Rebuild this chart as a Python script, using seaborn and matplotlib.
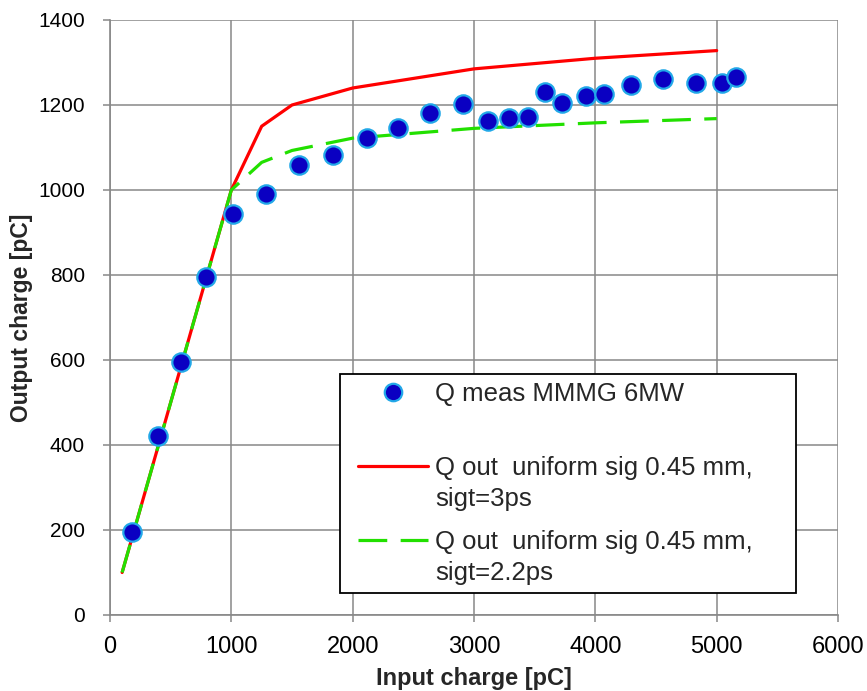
import numpy as np
import pandas as pd
import matplotlib
matplotlib.use("Agg")
import matplotlib.pyplot as plt
import seaborn as sns
from matplotlib.legend_handler import HandlerLine2D, HandlerPathCollection
from matplotlib.transforms import Affine2D

# ---------------- data ----------------
meas_x = [181, 396, 585, 791, 1014, 1286, 1558, 1838, 2119, 2377, 2638, 2908,
          3119, 3292, 3443, 3586, 3724, 3927, 4070, 4295, 4559, 4831, 5043, 5158]
meas_y = [195, 421, 596, 796, 943, 990, 1059, 1082, 1122, 1145, 1180, 1202,
          1163, 1170, 1172, 1231, 1205, 1220, 1226, 1248, 1262, 1252, 1252, 1266]
sim_x = [100, 1000, 1250, 1500, 2000, 3000, 4000, 5000]
sim3_y = [100, 1000, 1150, 1200, 1240, 1285, 1310, 1328]
sim22_y = [100, 1000, 1065, 1093, 1122, 1145, 1158, 1168]
x_ticks = [0, 1000, 2000, 3000, 4000, 5000, 6000]
y_ticks = [0, 200, 400, 600, 800, 1000, 1200, 1400]
label_meas = "Q meas MMMG 6MW"
label_3ps = "Q out  uniform sig 0.45 mm,\nsigt=3ps"
label_22ps = "Q out  uniform sig 0.45 mm,\nsigt=2.2ps"
x_label = "Input charge [pC]"
y_label = "Output charge [pC]"

sns.set_theme(style="white")
plt.rcParams["font.family"] = ["Liberation Sans", "DejaVu Sans"]

GRID = "#888888"
RED = "#ff0000"
GREEN = "#22e000"
FILL = "#0a00c2"
EDGE = "#22a8e8"

fig = plt.figure(figsize=(8.67, 6.91), dpi=100)
ax = fig.add_axes([0.12687, 0.10999, 0.83968, 0.86107])

meas = pd.DataFrame({"x": meas_x, "y": meas_y})
sim = pd.DataFrame({"x": sim_x, "y3": sim3_y, "y22": sim22_y})

sns.lineplot(data=sim, x="x", y="y3", color=RED, linewidth=2.3, ax=ax,
             label=label_3ps, sort=False, zorder=2)
sns.lineplot(data=sim, x="x", y="y22", color=GREEN, linewidth=2.3, ax=ax,
             label=label_22ps, sort=False, zorder=2.1)
ax.lines[-1].set_dashes((9, 4.2))
sns.scatterplot(data=meas, x="x", y="y", s=175, color=FILL, edgecolor=EDGE,
                linewidth=1.6, ax=ax, label=label_meas, zorder=3)

ax.set_xlim(0, 6000)
ax.set_ylim(0, 1400)
ax.set_xticks(x_ticks)
ax.set_yticks(y_ticks)
ax.set_xticklabels([str(v) for v in x_ticks], fontsize=17)
ax.set_yticklabels([str(v) for v in y_ticks], fontsize=15)
ax.grid(True, color=GRID, linewidth=1.1)
ax.set_axisbelow(True)
for s in ["top", "right"]:
    ax.spines[s].set_visible(False)
for s in ["left", "bottom"]:
    ax.spines[s].set_color(GRID)
    ax.spines[s].set_linewidth(1.2)
ax.tick_params(axis="both", direction="out", length=5, width=1.1, color=GRID,
               labelcolor="black", left=True, bottom=True)
ax.tick_params(axis="y", pad=13)
ax.tick_params(axis="x", pad=10)

ax.set_xlabel(x_label, fontsize=17, fontweight="bold")
ax.set_ylabel(y_label, fontsize=16.5, fontweight="bold")
ax.xaxis.set_label_coords(0.5, -0.088)
ax.yaxis.set_label_coords(-0.106, 0.5)


class ShiftLine(HandlerLine2D):
    def __init__(self, dy=0.0, **kw):
        super().__init__(**kw)
        self._dy = dy

    def create_artists(self, legend, orig_handle, xdescent, ydescent, width,
                       height, fontsize, trans):
        t = Affine2D().translate(0, self._dy * fontsize) + trans
        return super().create_artists(legend, orig_handle, xdescent, ydescent,
                                      width, height, fontsize, t)


class ShiftPath(HandlerPathCollection):
    def __init__(self, dy=0.0, **kw):
        super().__init__(**kw)
        self._dy = dy

    def create_artists(self, legend, orig_handle, xdescent, ydescent, width,
                       height, fontsize, trans):
        t = Affine2D().translate(0, self._dy * fontsize) + trans
        return super().create_artists(legend, orig_handle, xdescent, ydescent,
                                      width, height, fontsize, t)


handles, labels = ax.get_legend_handles_labels()
hmap = dict(zip(labels, handles))
order = [label_meas, label_3ps, label_22ps]
hs = [hmap[l] for l in order]
shown = [label_meas + "\n ", label_3ps, label_22ps]
DY = 0.70
leg = ax.legend(
    hs, shown,
    loc="upper left", bbox_to_anchor=(0.316, 0.040, 0.626, 0.365),
    mode="expand", borderaxespad=0, fontsize=18.5, frameon=True,
    fancybox=False, shadow=False, framealpha=1, edgecolor="black",
    borderpad=0.3, labelspacing=0.75, handlelength=3.12, handletextpad=0.27,
    scatterpoints=1, scatteryoffsets=[0.5], markerscale=0.95,
    handler_map={hs[0]: ShiftPath(dy=DY, xpad=0.4),
                 hs[1]: ShiftLine(dy=DY, xpad=0.4),
                 hs[2]: ShiftLine(dy=DY, xpad=0.4)},
)
leg.get_frame().set_linewidth(1.3)
for t in leg.get_texts():
    t.set_linespacing(1.36)

fig.savefig("out.png", dpi=100)
